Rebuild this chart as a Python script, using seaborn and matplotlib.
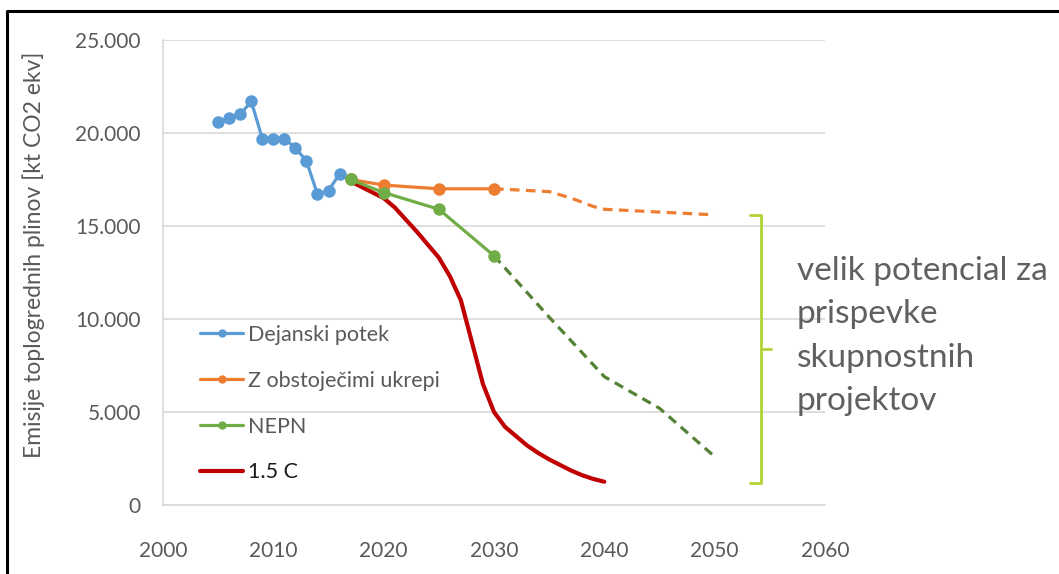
import numpy as np
import pandas as pd
import matplotlib.pyplot as plt
import seaborn as sns
from matplotlib.lines import Line2D

# Podatki (odčitani s slike)
leta_dejansko = [2005, 2006, 2007, 2008, 2009, 2010, 2011, 2012, 2013, 2014, 2015, 2016, 2017]
dejansko = [20600, 20800, 21000, 21700, 19700, 19700, 19700, 19200, 18500, 16700, 16900, 17800, 17500]

leta_ukrepi = [2017, 2020, 2025, 2030]
ukrepi = [17500, 17200, 17000, 17000]
leta_ukrepi_proj = [2030, 2035, 2037, 2039, 2040, 2045, 2050]
ukrepi_proj = [17000, 16850, 16500, 16050, 15900, 15750, 15600]

leta_nepn = [2017, 2020, 2025, 2030]
nepn = [17500, 16800, 15900, 13400]
leta_nepn_proj = [2030, 2035, 2040, 2045, 2050]
nepn_proj = [13400, 10100, 6900, 5200, 2600]

leta_15c = list(range(2017, 2041))
c15 = [17400, 17100, 16800, 16500, 16000, 15350, 14700, 14000, 13300, 12300,
       11000, 8750, 6500, 5000, 4200, 3700, 3200, 2800, 2450, 2150, 1850, 1600, 1400, 1250]

x_ticks = [2000, 2010, 2020, 2030, 2040, 2050, 2060]
y_ticks = [0, 5000, 10000, 15000, 20000, 25000]

BLUE = '#5B9BD5'
ORANGE = '#ED7D31'
GREEN = '#70AD47'
DKGREEN = '#548235'
RED = '#C00000'
GREY = '#595959'
LIME = '#B2D235'

sns.set_theme(style='white')
plt.rcParams['font.family'] = ['Lato', 'DejaVu Sans']

fig = plt.figure(figsize=(10.59, 5.74), dpi=100)
ax = fig.add_axes([163 / 1059, 1 - 505 / 574, (825 - 163) / 1059, (505 - 40) / 574])

lw = 2.3
ms = 9
sns.lineplot(x=leta_dejansko, y=dejansko, ax=ax, color=BLUE, lw=lw, marker='o',
             markersize=ms, markeredgewidth=0, zorder=3)
sns.lineplot(x=leta_ukrepi_proj, y=ukrepi_proj, ax=ax, color=ORANGE, lw=lw,
             linestyle=(0, (3, 2)), zorder=2)
sns.lineplot(x=leta_ukrepi, y=ukrepi, ax=ax, color=ORANGE, lw=lw, marker='o',
             markersize=ms, markeredgewidth=0, zorder=4)
sns.lineplot(x=leta_nepn_proj, y=nepn_proj, ax=ax, color=DKGREEN, lw=lw,
             linestyle=(0, (3, 2)), zorder=2)
sns.lineplot(x=leta_nepn, y=nepn, ax=ax, color=GREEN, lw=lw, marker='o',
             markersize=ms, markeredgewidth=0, zorder=5)
sns.lineplot(x=leta_15c, y=c15, ax=ax, color=RED, lw=3, zorder=4)

ax.set_xlim(2000, 2060)
ax.set_ylim(0, 25000)
ax.set_xticks(x_ticks)
ax.set_yticks(y_ticks)
ax.yaxis.set_major_formatter(plt.FuncFormatter(lambda v, _: f'{v:,.0f}'.replace(',', '.')))
ax.grid(axis='y', color='#D9D9D9', lw=1.2)
ax.grid(axis='x', visible=False)
for s in ['top', 'right']:
    ax.spines[s].set_visible(False)
for s in ['left', 'bottom']:
    ax.spines[s].set_color('#D9D9D9')
    ax.spines[s].set_linewidth(1.2)
ax.tick_params(axis='both', length=0, labelsize=15, labelcolor=GREY)
ax.tick_params(axis='y', pad=16)
ax.tick_params(axis='x', pad=26)
ax.set_xlabel('')
ax.set_ylabel('Emisije toplogrednih plinov [kt CO2 ekv]', fontsize=16.5, color=GREY)
ax.yaxis.set_label_coords(-0.178, 0.538)

handles = [
    Line2D([], [], color=BLUE, lw=lw, marker='o', markersize=6, markeredgewidth=0),
    Line2D([], [], color=ORANGE, lw=lw, marker='o', markersize=6, markeredgewidth=0),
    Line2D([], [], color=GREEN, lw=lw, marker='o', markersize=6, markeredgewidth=0),
    Line2D([], [], color=RED, lw=3),
]
labels = ['Dejanski potek', 'Z obstoječimi ukrepi', 'NEPN', '1.5 C']
leg = fig.legend(handles, labels, loc='upper left', bbox_to_anchor=(200 / 1059, 1 - 325 / 574),
                 frameon=False, fontsize=15.5, borderpad=0, borderaxespad=0,
                 handlelength=2.0, handletextpad=0.25, labelspacing=1.2)
for t in leg.get_texts()[:3]:
    t.set_color(GREY)
leg.get_texts()[3].set_color('#1a1a1a')

# Oklepaj in opomba
bx = dict(transform=ax.transData, color=LIME, lw=2, clip_on=False)
ax.add_line(Line2D([2053.2, 2054.2, 2054.2, 2053.2], [15590, 15590, 1180, 1180], **bx))
ax.add_line(Line2D([2054.2, 2055.1], [8390, 8390], **bx))
fig.text(797 / 1059, 1 - 336 / 574, 'velik potencial za\nprispevke\nskupnostnih\nprojektov',
         fontsize=24, color='#606060', fontweight='normal', va='center', ha='left', linespacing=1.55)

# Okvir slike (zgoraj in levo)
fig.add_artist(Line2D([7 / 1059, 7 / 1059, 1], [0, 1 - 11 / 574, 1 - 11 / 574],
                      transform=fig.transFigure, color='black', lw=2.2))

fig.savefig('out.png', dpi=100)
